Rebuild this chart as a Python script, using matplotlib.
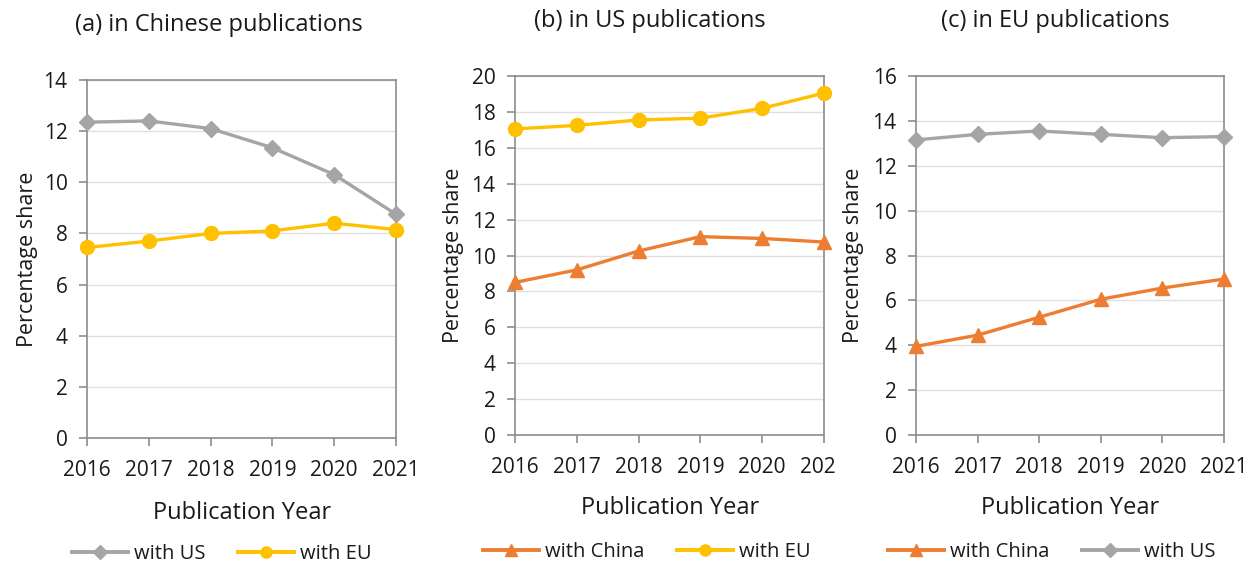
import matplotlib
matplotlib.use("Agg")
import matplotlib.pyplot as plt
from matplotlib.lines import Line2D
from matplotlib.transforms import Bbox, TransformedBbox

plt.rcParams['font.family'] = ['Open Sans', 'DejaVu Sans']

anos = [2016, 2017, 2018, 2019, 2020, 2021]

# (a) in Chinese publications
cn_with_us = [12.35, 12.4, 12.1, 11.35, 10.3, 8.75]
cn_with_eu = [7.45, 7.7, 8.0, 8.1, 8.4, 8.15]

# (b) in US publications
us_with_china = [8.5, 9.2, 10.25, 11.05, 10.95, 10.75]
us_with_eu = [17.05, 17.25, 17.55, 17.65, 18.2, 19.05]

# (c) in EU publications
eu_with_china = [3.95, 4.45, 5.25, 6.05, 6.55, 6.95]
eu_with_us = [13.15, 13.4, 13.55, 13.4, 13.25, 13.3]

titulos = ["(a) in Chinese publications", "(b) in US publications", "(c) in EU publications"]

CINZA = "#A5A5A5"
AMARELO = "#FFC000"
LARANJA = "#ED7D31"
TEXTO = "#1a1a1a"

W, H = 1251, 562
fig = plt.figure(figsize=(W / 100, H / 100), dpi=100)


def caixa(x0, x1, y_top, y_bot):
    return [x0 / W, 1 - y_bot / H, (x1 - x0) / W, (y_bot - y_top) / H]


def fx(x):
    return x / W


def fy(y):
    return 1 - y / H


estilos = {
    "with US": dict(color=CINZA, marker="D", markersize=8.5),
    "with EU": dict(color=AMARELO, marker="o", markersize=10),
    "with China": dict(color=LARANJA, marker="^", markersize=10),
}

paineis = [
    dict(pos=caixa(87, 396, 80, 438), ymax=14, series=[("with US", cn_with_us), ("with EU", cn_with_eu)],
         titulo_xy=(219, 25), xlabel_xy=(242, 513), ylabel_xy=(28, 259), legenda_xy=(222, 554)),
    dict(pos=caixa(515, 824, 76, 435), ymax=20, series=[("with China", us_with_china), ("with EU", us_with_eu)],
         titulo_xy=(650, 21), xlabel_xy=(670, 508), ylabel_xy=(453, 255), legenda_xy=(647, 552)),
    dict(pos=caixa(916, 1224, 76, 435), ymax=16, series=[("with China", eu_with_china), ("with US", eu_with_us)],
         titulo_xy=(1055, 21), xlabel_xy=(1070, 508), ylabel_xy=(853, 255), legenda_xy=(1052, 552)),
]

for i, p in enumerate(paineis):
    ax = fig.add_axes(p["pos"])
    for nome, valores in p["series"]:
        st = estilos[nome]
        ax.plot(anos, valores, color=st["color"], marker=st["marker"], markersize=st["markersize"],
                linewidth=2.4, clip_on=False, zorder=3)
    ax.set_xlim(2016, 2021)
    ax.set_ylim(0, p["ymax"])
    ax.set_xticks(anos)
    ax.set_yticks(range(0, p["ymax"] + 1, 2))
    ax.grid(axis="y", color="#E0E0E0", linewidth=1)
    ax.set_axisbelow(True)
    for lado in ax.spines.values():
        lado.set_color("#8C8C8C")
        lado.set_linewidth(1.2)
    ax.tick_params(axis="both", direction="out", length=6, width=1.2, color="#8C8C8C",
                   labelsize=15, labelcolor=TEXTO)
    ax.tick_params(axis="x", pad=10)
    ax.tick_params(axis="y", pad=8)

    if i == 1:
        # the last year label of panel (b) is cut off at the chart border
        corte = TransformedBbox(Bbox([[0, 0], [835 / W, 1]]), fig.transFigure)
        for lbl in ax.get_xticklabels():
            lbl.set_clip_box(corte)
            lbl.set_clip_on(True)

    tx, ty = p["titulo_xy"]
    fig.text(fx(tx), fy(ty), titulos[i], ha="center", va="center", fontsize=17, color=TEXTO)
    lx, ly = p["xlabel_xy"]
    fig.text(fx(lx), fy(ly), "Publication Year", ha="center", va="center", fontsize=17, color=TEXTO)
    yx, yy = p["ylabel_xy"]
    fig.text(fx(yx), fy(yy), "Percentage share", ha="center", va="center", rotation=90,
             fontsize=15.5, color=TEXTO)

    alcas = []
    for nome, _ in p["series"]:
        st = estilos[nome]
        alcas.append(Line2D([], [], color=st["color"], marker=st["marker"], markersize=st["markersize"] * 0.8,
                            linewidth=2.8, label=nome))
    gx, gy = p["legenda_xy"]
    fig.legend(handles=alcas, loc="center", bbox_to_anchor=(fx(gx), fy(gy)), ncol=2, frameon=False,
               fontsize=14.5, handlelength=2.8, columnspacing=1.6, handletextpad=0.3,
               labelcolor=TEXTO)

fig.savefig("out.png", dpi=100)
